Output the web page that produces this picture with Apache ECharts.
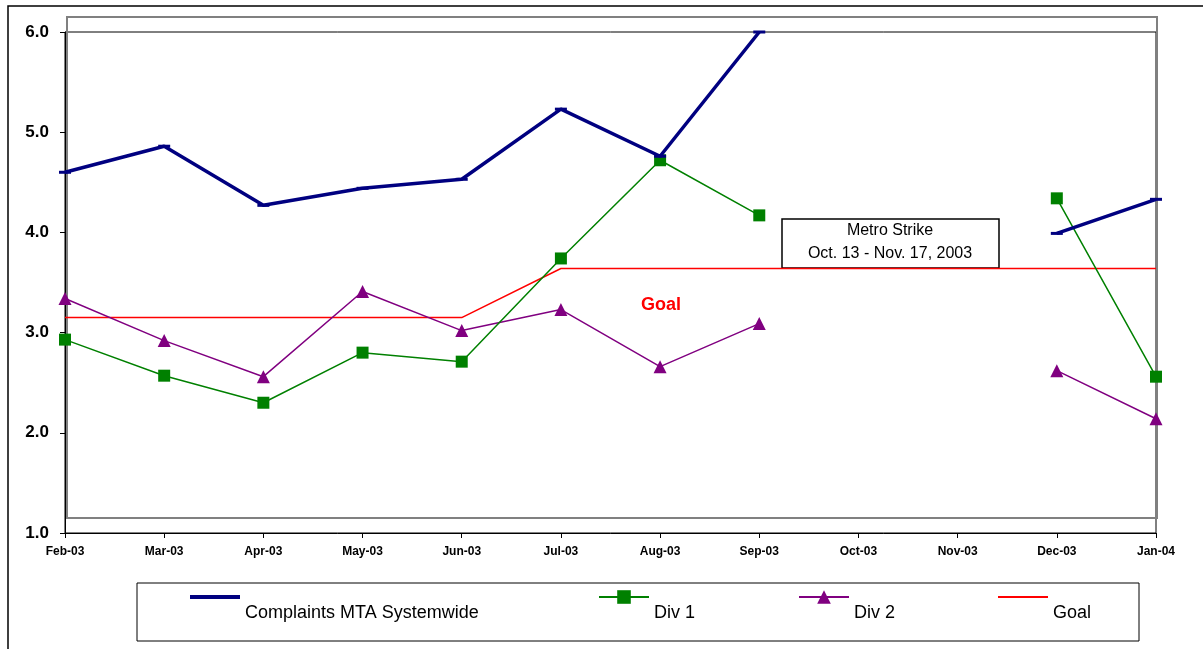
<!DOCTYPE html>
<html>
<head>
<meta charset="utf-8">
<script src="https://cdn.jsdelivr.net/npm/echarts@6/dist/echarts.min.js"></script>
<style>
  html, body { margin: 0; padding: 0; background: #fff; }
  #chart { width: 1203px; height: 649px; }
</style>
</head>
<body>
<div id="chart"></div>
<script>
// Monthly complaint rates, Feb 2003 - Jan 2004 (no data during the strike months)
const months = ['Feb-03', 'Mar-03', 'Apr-03', 'May-03', 'Jun-03', 'Jul-03',
                'Aug-03', 'Sep-03', 'Oct-03', 'Nov-03', 'Dec-03', 'Jan-04'];
const systemwide = [4.60, 4.86, 4.27, 4.44, 4.53, 5.23, 4.76, 6.00, null, null, 3.99, 4.33];
const div1 = [2.93, 2.57, 2.30, 2.80, 2.71, 3.74, 4.72, 4.17, null, null, 4.34, 2.56];
const div2 = [3.34, 2.92, 2.56, 3.41, 3.02, 3.23, 2.66, 3.09, null, null, 2.62, 2.14];
const goal = [3.15, 3.15, 3.15, 3.15, 3.15, 3.64, 3.64, 3.64, 3.64, 3.64, 3.64, 3.64];
const yTicks = { min: 1, max: 6, step: 1 };
const seriesNames = ['Complaints MTA Systemwide', 'Div 1', 'Div 2', 'Goal'];

const chart = echarts.init(document.getElementById('chart'), null, { renderer: 'canvas' });

const FONT = '"Liberation Sans", Arial, sans-serif';

// One legend block per series; the label sits on a second line below the key
function legendAt(name, left, icon, iconHeight) {
  const item = { name: name };
  if (icon) item.icon = icon;
  return {
    data: [item],
    left: left,
    top: 565,
    itemWidth: 50,
    itemHeight: iconHeight,
    itemGap: 0,
    padding: 0,
    selectedMode: false,
    formatter: n => '\n' + n,
    textStyle: {
      fontFamily: FONT,
      fontSize: 18,
      color: '#000',
      lineHeight: 32
    }
  };
}

chart.setOption({
  animation: false,
  backgroundColor: '#fff',
  grid: {
    left: 65, right: 47, top: 32, bottom: 116,
    show: true, borderColor: '#000', borderWidth: 1, backgroundColor: 'transparent'
  },
  legend: [
    legendAt(seriesNames[0], 190, 'rect', 4),
    legendAt(seriesNames[1], 598, null, 17),
    legendAt(seriesNames[2], 798, null, 17),
    legendAt(seriesNames[3], 998, 'rect', 2)
  ],
  xAxis: {
    type: 'category',
    data: months,
    boundaryGap: false,
    axisLine: { lineStyle: { color: '#000', width: 1 } },
    axisTick: { show: true, length: 5, inside: false, lineStyle: { color: '#000' } },
    axisLabel: {
      fontFamily: FONT, fontWeight: 'bold', fontSize: 12, color: '#000',
      margin: 13, interval: 0
    },
    splitLine: { show: false }
  },
  yAxis: {
    type: 'value',
    min: yTicks.min,
    max: yTicks.max,
    interval: yTicks.step,
    axisLine: { show: true, lineStyle: { color: '#000', width: 1 } },
    axisTick: { show: true, length: 5, lineStyle: { color: '#000' } },
    axisLabel: {
      fontFamily: FONT, fontWeight: 'bold', fontSize: 17, color: '#000', margin: 16,
      formatter: v => v.toFixed(1)
    },
    splitLine: { show: false }
  },
  graphic: [
    // outer chart frame
    { type: 'rect', z: 0, silent: true,
      shape: { x: 8, y: 6, width: 1210, height: 660 },
      style: { fill: 'none', stroke: '#000', lineWidth: 1.5 } },
    // raised plot-area panel outline
    { type: 'rect', z: 1, silent: true,
      shape: { x: 67, y: 17, width: 1090, height: 501 },
      style: { fill: 'none', stroke: '#808080', lineWidth: 2 } },
    // legend box
    { type: 'rect', z: 1, silent: true,
      shape: { x: 137, y: 583, width: 1002, height: 58 },
      style: { fill: 'none', stroke: '#000', lineWidth: 1 } },
    // goal label
    { type: 'text', z: 10, silent: true, x: 661, y: 305,
      style: { text: 'Goal', fill: '#ff0000', font: 'bold 18px ' + FONT,
               textAlign: 'center', textVerticalAlign: 'middle' } },
    // strike annotation
    { type: 'group', z: 20, silent: true, children: [
      { type: 'rect', shape: { x: 782, y: 219, width: 217, height: 49 },
        style: { fill: '#fff', stroke: '#000', lineWidth: 1.5 } },
      { type: 'text', x: 890, y: 231,
        style: { text: 'Metro Strike', fill: '#000', font: '16px ' + FONT,
                 textAlign: 'center', textVerticalAlign: 'middle' } },
      { type: 'text', x: 890, y: 254,
        style: { text: 'Oct. 13 - Nov. 17, 2003', fill: '#000', font: '16px ' + FONT,
                 textAlign: 'center', textVerticalAlign: 'middle' } }
    ] }
  ],
  series: [
    {
      name: seriesNames[3], type: 'line', data: goal, z: 3,
      symbol: 'none', connectNulls: false,
      lineStyle: { color: '#ff0000', width: 1.5 },
      itemStyle: { color: '#ff0000' }
    },
    {
      name: seriesNames[2], type: 'line', data: div2, z: 4,
      symbol: 'triangle', symbolSize: 13, showAllSymbol: true, connectNulls: false,
      lineStyle: { color: '#800080', width: 1.5 },
      itemStyle: { color: '#800080' }
    },
    {
      name: seriesNames[1], type: 'line', data: div1, z: 5,
      symbol: 'rect', symbolSize: 12, showAllSymbol: true, connectNulls: false,
      lineStyle: { color: '#008000', width: 1.5 },
      itemStyle: { color: '#008000' }
    },
    {
      name: seriesNames[0], type: 'line', data: systemwide, z: 6,
      symbol: 'rect', symbolSize: [12, 3], showAllSymbol: true, connectNulls: false,
      clip: false,
      lineStyle: { color: '#000080', width: 3.5 },
      itemStyle: { color: '#000080' }
    }
  ]
});
</script>
</body>
</html>
